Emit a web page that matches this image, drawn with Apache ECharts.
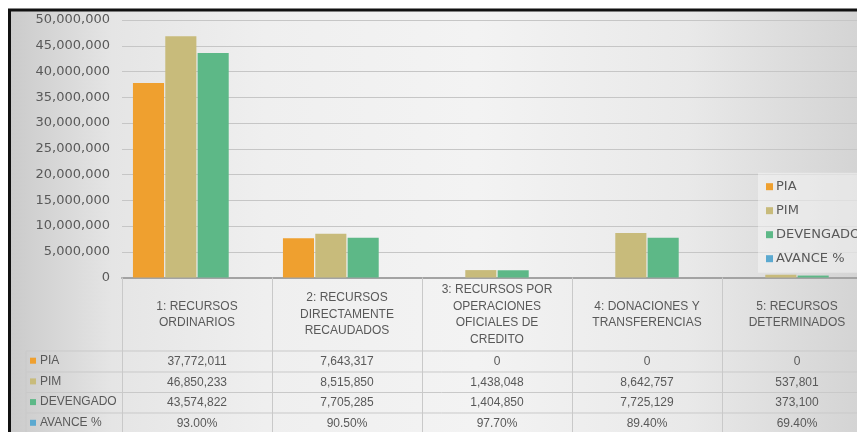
<!DOCTYPE html>
<html>
<head>
<meta charset="utf-8">
<script src="https://cdn.jsdelivr.net/npm/echarts@6/dist/echarts.min.js"></script>
<style>
html,body{margin:0;padding:0;background:#fff;}
#chart{width:857px;height:432px;}
</style>
</head>
<body>
<div id="chart"></div>
<script>
const categories = [
  '1: RECURSOS\nORDINARIOS',
  '2: RECURSOS\nDIRECTAMENTE\nRECAUDADOS',
  '3: RECURSOS POR\nOPERACIONES\nOFICIALES DE\nCREDITO',
  '4: DONACIONES Y\nTRANSFERENCIAS',
  '5: RECURSOS\nDETERMINADOS'
];
const seriesNames = ['PIA', 'PIM', 'DEVENGADO', 'AVANCE %'];
const pia = [37772011, 7643317, 0, 0, 0];
const pim = [46850233, 8515850, 1438048, 8642757, 537801];
const devengado = [43574822, 7705285, 1404850, 7725129, 373100];
const avance = [93.00, 90.50, 97.70, 89.40, 69.40];
const yTicks = [0, 5000000, 10000000, 15000000, 20000000, 25000000, 30000000, 35000000, 40000000, 45000000, 50000000];

const colors = ['#EFA02F', '#C8BB7B', '#5DB887', '#5BA9D0'];
const txt = '#595959';
const lineCol = '#c9c9c9';
const fmtNum = v => v.toLocaleString('en-US');
const fmtPct = v => v.toFixed(2) + '%';

const rows = [
  pia.map(fmtNum),
  pim.map(fmtNum),
  devengado.map(fmtNum),
  avance.map(fmtPct)
];
const rowMargins = [84, 105, 125, 146];

const chart = echarts.init(document.getElementById('chart'), null, {renderer: 'canvas'});

const xAxes = [{
  type: 'category',
  data: categories,
  gridIndex: 0,
  position: 'bottom',
  axisLine: {show: true, lineStyle: {color: '#a3a3a3', width: 2}},
  axisTick: {show: true, length: 155, interval: 0, lineStyle: {color: lineCol, width: 1}},
  axisLabel: {
    interval: 0, margin: 37, verticalAlign: 'middle', lineHeight: 16.5,
    fontFamily: 'Liberation Sans', fontSize: 12, color: txt
  }
}];
rows.forEach((r, i) => {
  xAxes.push({
    type: 'category',
    data: r,
    gridIndex: 0,
    position: 'bottom',
    axisLine: {show: false},
    axisTick: {show: false},
    splitLine: {show: false},
    axisLabel: {
      interval: 0, margin: rowMargins[i], verticalAlign: 'middle',
      fontFamily: 'Liberation Sans', fontSize: 12, color: txt
    }
  });
});

const dataSets = [pia, pim, devengado, avance];

const option = {
  backgroundColor: '#ffffff',
  animation: false,
  graphic: [
    {
      type: 'rect', z: -100, silent: true,
      shape: {x: 11, y: 11, width: 846, height: 421},
      style: {
        fill: new echarts.graphic.LinearGradient(0, 0, 1, 0, [
          {offset: 0, color: '#cbcbcb'},
          {offset: 0.12, color: '#e5e5e5'},
          {offset: 0.3, color: '#efefef'},
          {offset: 0.55, color: '#f3f3f3'},
          {offset: 0.8, color: '#e9e9e9'},
          {offset: 1, color: '#d4d4d4'}
        ])
      }
    },
    {type: 'line', z: 5, silent: true, shape: {x1: 26, y1: 351, x2: 857, y2: 351}, style: {stroke: lineCol, lineWidth: 1}},
    {type: 'line', z: 5, silent: true, shape: {x1: 26, y1: 372, x2: 857, y2: 372}, style: {stroke: lineCol, lineWidth: 1}},
    {type: 'line', z: 5, silent: true, shape: {x1: 26, y1: 392.5, x2: 857, y2: 392.5}, style: {stroke: lineCol, lineWidth: 1}},
    {type: 'line', z: 5, silent: true, shape: {x1: 26, y1: 413, x2: 857, y2: 413}, style: {stroke: lineCol, lineWidth: 1}},
    {type: 'line', z: 5, silent: true, shape: {x1: 26, y1: 351, x2: 26, y2: 432}, style: {stroke: lineCol, lineWidth: 1}},
    {type: 'line', z: 100, silent: true, shape: {x1: 8, y1: 10, x2: 857, y2: 10}, style: {stroke: '#111', lineWidth: 3}},
    {type: 'line', z: 100, silent: true, shape: {x1: 9.5, y1: 9, x2: 9.5, y2: 432}, style: {stroke: '#111', lineWidth: 3}}
  ],
  grid: {left: 122, top: 20, width: 750, height: 257.5, containLabel: false, outerBoundsMode: 'none'},
  legend: [
    {
      data: seriesNames,
      orient: 'vertical',
      left: 758, top: 172.7,
      padding: [6, 20, 6, 8],
      backgroundColor: 'rgba(250,250,250,0.45)',
      itemWidth: 7, itemHeight: 7, itemGap: 8,
      icon: 'rect',
      selectedMode: false,
      textStyle: {fontFamily: 'DejaVu Sans', fontSize: 13, lineHeight: 16, color: txt, padding: [0, 0, 0, -2]}
    },
    {
      data: seriesNames,
      orient: 'vertical',
      left: 30, top: 353.7,
      padding: 0,
      itemWidth: 6, itemHeight: 6, itemGap: 6.7,
      icon: 'rect',
      selectedMode: false,
      textStyle: {fontFamily: 'Liberation Sans', fontSize: 12, lineHeight: 14, color: txt, padding: [0, 0, 0, -1]}
    }
  ],
  xAxis: xAxes,
  yAxis: {
    type: 'value',
    min: yTicks[0],
    max: yTicks[yTicks.length - 1],
    interval: yTicks[1] - yTicks[0],
    axisLine: {show: false},
    axisTick: {show: false},
    splitLine: {show: true, lineStyle: {color: '#c6c6c6', width: 1}},
    axisLabel: {
      margin: 12,
      fontFamily: 'DejaVu Sans', fontSize: 13, color: txt,
      formatter: v => fmtNum(v)
    }
  },
  series: seriesNames.map((name, i) => ({
    name: name,
    type: 'bar',
    xAxisIndex: 0,
    data: dataSets[i],
    barGap: '4%',
    barCategoryGap: '14.6%',
    itemStyle: {color: colors[i]},
    emphasis: {disabled: true}
  }))
};
chart.setOption(option);
</script>
</body>
</html>
